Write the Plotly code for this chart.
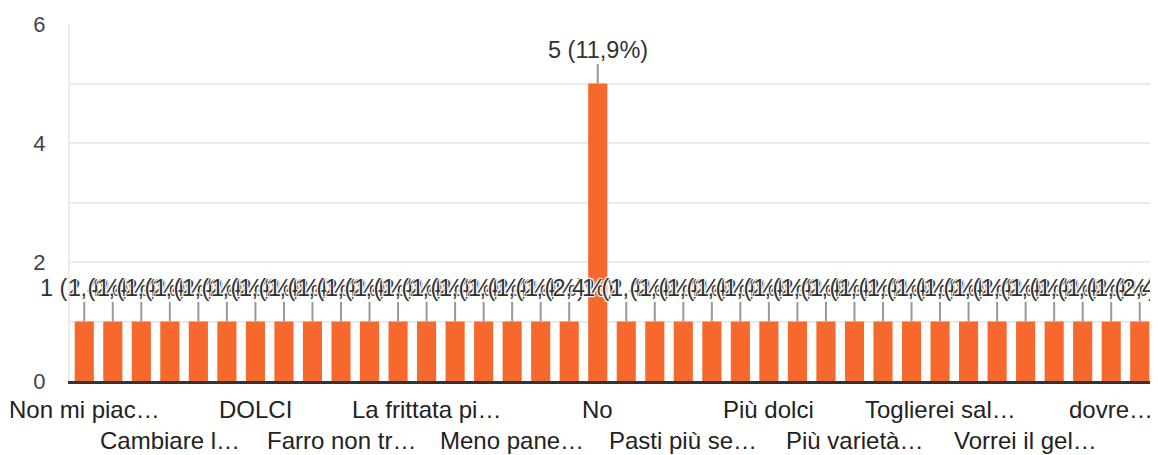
import plotly.graph_objects as go

# ---- data ----
CATEGORIES = [
    "Non mi piace il pesce", "Aggiungere la pizza", "Bene così", "Cambiare la pasta",
    "Carne più tenera", "Cibo più caldo", "DOLCI", "Di più la frutta", "Dolci più spesso",
    "Farro non troppo spesso", "Frutta più matura", "Hamburger", "La frittata più spesso",
    "La pasta al pomodoro", "Le verdure più buone", "Meno pane secco", "Meno verdure",
    "Mettere il gelato", "No", "Nulla", "Pasta più spesso", "Pasti più semplici",
    "Patatine fritte", "Pizza", "Più dolci", "Più frutta", "Più pizza",
    "Più varietà nei piatti", "Porzioni più grandi", "Si", "Toglierei salumi",
    "Tutto buono", "Verdure cotte meglio", "Vorrei il gelato", "Vorrei la pizza",
    "cambierei il pesce", "dovrebbero mettere più dolci", "niente",
]
VALUES = [1, 1, 1, 1, 1, 1, 1, 1, 1, 1, 1, 1, 1, 1, 1, 1, 1, 1, 5,
          1, 1, 1, 1, 1, 1, 1, 1, 1, 1, 1, 1, 1, 1, 1, 1, 1, 1, 1]
TICK_INDEX_TOP = [0, 6, 12, 18, 24, 30, 36]
TICK_LABELS_TOP = ["Non mi piac…", "DOLCI", "La frittata pi…", "No", "Più dolci",
                   "Toglierei sal…", "dovre…"]
TICK_INDEX_BOTTOM = [3, 9, 15, 21, 27, 33]
TICK_LABELS_BOTTOM = ["Cambiare l…", "Farro non tr…", "Meno pane…", "Pasti più se…",
                      "Più varietà…", "Vorrei il gel…"]

TOTAL = sum(VALUES)
FONT = "Arial, 'Liberation Sans', sans-serif"
ORANGE = "#f6682c"

fig = go.Figure(go.Bar(
    x=CATEGORIES, y=VALUES, marker=dict(color=ORANGE, line=dict(width=0)),
    hoverinfo="skip",
))

annotations = []
halo = ("1px 1px 1px white, -1px -1px 1px white, 1px -1px 1px white, "
        "-1px 1px 1px white")
for c, v in zip(CATEGORIES, VALUES):
    pct = f"{v / TOTAL * 100:.1f}".replace(".", ",")
    annotations.append(dict(
        x=c, y=v, xref="x", yref="y", text=f"{v} ({pct}%)",
        showarrow=True, arrowhead=0, arrowwidth=2, arrowcolor="#999999",
        ax=0, ay=-34, font=dict(family=FONT, size=23.5, color="#333333", shadow=halo),
    ))
for i, t in zip(TICK_INDEX_TOP, TICK_LABELS_TOP):
    annotations.append(dict(
        x=CATEGORIES[i], y=0, xref="x", yref="y", text=t, showarrow=False,
        yanchor="top", yshift=-13, font=dict(family=FONT, size=24, color="#222222"),
    ))
for i, t in zip(TICK_INDEX_BOTTOM, TICK_LABELS_BOTTOM):
    annotations.append(dict(
        x=CATEGORIES[i], y=0, xref="x", yref="y", text=t, showarrow=False,
        yanchor="top", yshift=-44, font=dict(family=FONT, size=24, color="#222222"),
    ))

# page body has an 8px default margin, so the figure is sized/offset to fit the window
fig.update_layout(
    width=1150, height=447,
    margin=dict(l=62, r=4, t=16, b=74, autoexpand=False),
    paper_bgcolor="white", plot_bgcolor="white",
    bargap=0.33, showlegend=False,
    annotations=annotations,
    font=dict(family=FONT),
    xaxis=dict(
        range=[-0.5, len(CATEGORIES) - 0.5], autorange=False,
        showticklabels=False, showgrid=False, zeroline=False,
        showline=True, linecolor="#333333", linewidth=3,
        fixedrange=True,
    ),
    yaxis=dict(
        range=[0, 6], autorange=False,
        tickvals=[0, 2, 4, 6], ticktext=["0", "2", "4", "6"],
        showgrid=True, gridcolor="#ebebeb", gridwidth=2,
        minor=dict(dtick=1, showgrid=True, gridcolor="#ebebeb", gridwidth=2),
        zeroline=False, showline=True, linecolor="#ebebeb", linewidth=2, mirror=True,
        tickfont=dict(family=FONT, size=22, color="#444444"),
        ticklabelstandoff=18, fixedrange=True,
    ),
)

fig.write_html("out.html")
